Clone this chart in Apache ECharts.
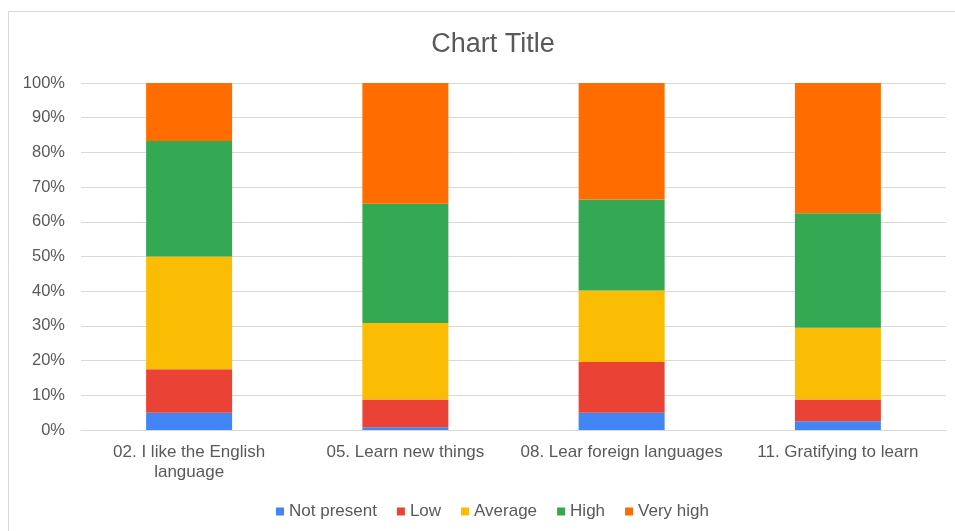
<!DOCTYPE html>
<html>
<head>
<meta charset="utf-8">
<script src="https://cdn.jsdelivr.net/npm/echarts@6/dist/echarts.min.js"></script>
<style>
  html, body { margin: 0; padding: 0; background: #fff; }
  #chart { width: 955px; height: 531px; }
</style>
</head>
<body>
<div id="chart"></div>
<script>
const categories = ['02. I like the English\nlanguage', '05. Learn new things', '08. Lear foreign languages', '11. Gratifying to learn'];
const notPresent = [5, 0.8, 5, 2.5];
const low = [12.5, 8, 14.6, 6.3];
const average = [32.5, 22, 20.6, 20.7];
const high = [33.3, 34.4, 26.2, 33];
const veryHigh = [16.7, 34.8, 33.6, 37.5];
const yTicks = [0, 10, 20, 30, 40, 50, 60, 70, 80, 90, 100];

const seriesDefs = [
	{ name: 'Not present', data: notPresent, color: '#4285f4' },
	{ name: 'Low', data: low, color: '#ea4335' },
	{ name: 'Average', data: average, color: '#fbbc04' },
	{ name: 'High', data: high, color: '#34a853' },
	{ name: 'Very high', data: veryHigh, color: '#ff6d01' },
];

const font = 'Liberation Sans, Arial, sans-serif';
const chart = echarts.init(document.getElementById('chart'));

chart.setOption({
	animation: false,
	title: {
		text: 'Chart Title',
		left: 488,
		textAlign: 'center',
		top: 26,
		textStyle: { color: '#595959', fontSize: 27, fontWeight: 'normal', fontFamily: font },
	},
	graphic: [{
		type: 'rect',
		shape: { x: 8.5, y: 11.5, width: 1000, height: 600 },
		style: { fill: 'none', stroke: '#d9d9d9', lineWidth: 1 },
		silent: true,
	}],
	legend: {
		top: 498,
		left: 271,
		itemWidth: 8,
		itemHeight: 8,
		itemGap: 20,
		icon: 'rect',
		textStyle: { color: '#595959', fontSize: 17, fontFamily: font },
		data: seriesDefs.map(s => s.name),
	},
	grid: { left: 81, right: 9, top: 83, bottom: 101 },
	xAxis: {
		type: 'category',
		data: categories,
		axisTick: { show: false },
		axisLine: { lineStyle: { color: '#d9d9d9' } },
		axisLabel: { color: '#595959', fontSize: 17, fontFamily: font, margin: 12, lineHeight: 20, interval: 0 },
	},
	yAxis: {
		type: 'value',
		min: 0,
		max: 100,
		interval: 10,
		axisLabel: {
			color: '#595959', fontSize: 16.5, fontFamily: font, margin: 16,
			formatter: v => (yTicks.includes(v) ? v + '%' : ''),
		},
		splitLine: { lineStyle: { color: '#d9d9d9' } },
		axisLine: { show: false },
		axisTick: { show: false },
	},
	series: seriesDefs.map(s => ({
		name: s.name,
		type: 'bar',
		stack: 'total',
		barWidth: 86,
		data: s.data,
		itemStyle: { color: s.color },
	})),
});
</script>
</body>
</html>
